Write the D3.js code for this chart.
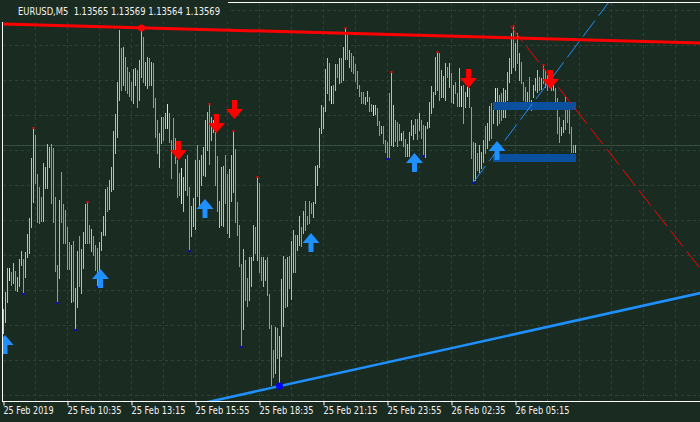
<!DOCTYPE html>
<html><head><meta charset="utf-8">
<script src="https://cdn.jsdelivr.net/npm/d3@7"></script>
<style>html,body{margin:0;padding:0;background:#1a2b21;overflow:hidden}svg{display:block}</style>
</head><body><svg id="c" width="700" height="422"></svg>
<script>
// ---- data (EURUSD M5, bar 0 = 25 Feb 2019 07:55) ----
const symbolTitle = "EURUSD,M5  1.13565 1.13569 1.13564 1.13569";
const barHigh = [
1.13405,1.13422,1.13446,1.13446,1.13442,1.13451,1.13443,1.13437,1.13455,1.13463,
1.13455,1.13462,1.13480,1.13496,1.13556,1.13586,1.13579,1.13540,1.13527,1.13517,
1.13551,1.13547,1.13570,1.13567,1.13570,1.13566,1.13517,1.13449,1.13514,1.13542,
1.13510,1.13504,1.13487,1.13472,1.13469,1.13473,1.13426,1.13463,1.13478,1.13465,
1.13482,1.13510,1.13512,1.13489,1.13485,1.13478,1.13469,1.13466,1.13472,1.13482,
1.13498,1.13525,1.13527,1.13534,1.13547,1.13583,1.13600,1.13632,1.13684,1.13666,
1.13667,1.13657,1.13647,1.13642,1.13632,1.13645,1.13646,1.13644,1.13654,1.13686,
1.13677,1.13652,1.13657,1.13656,1.13652,1.13651,1.13616,1.13594,1.13581,1.13597,
1.13597,1.13601,1.13610,1.13601,1.13574,1.13596,1.13576,1.13554,1.13541,1.13546,
1.13537,1.13555,1.13559,1.13527,1.13508,1.13516,1.13554,1.13569,1.13554,1.13559,
1.13567,1.13594,1.13602,1.13610,1.13597,1.13594,1.13582,1.13558,1.13513,1.13547,
1.13548,1.13559,1.13540,1.13545,1.13559,1.13583,1.13565,1.13512,1.13489,1.13450,
1.13465,1.13454,1.13436,1.13457,1.13457,1.13489,1.13487,1.13537,1.13531,1.13457,
1.13457,1.13454,1.13457,1.13420,1.13389,1.13364,1.13387,1.13386,1.13378,1.13435,
1.13458,1.13455,1.13457,1.13458,1.13473,1.13484,1.13479,1.13479,1.13498,1.13487,
1.13503,1.13513,1.13498,1.13513,1.13511,1.13512,1.13548,1.13549,1.13586,1.13609,
1.13607,1.13645,1.13656,1.13651,1.13628,1.13629,1.13650,1.13650,1.13656,1.13656,
1.13667,1.13686,1.13679,1.13664,1.13661,1.13658,1.13650,1.13643,1.13629,1.13622,
1.13622,1.13617,1.13623,1.13617,1.13610,1.13609,1.13609,1.13606,1.13593,1.13588,
1.13588,1.13574,1.13572,1.13621,1.13642,1.13609,1.13594,1.13592,1.13590,1.13581,
1.13583,1.13575,1.13570,1.13582,1.13594,1.13589,1.13595,1.13595,1.13601,1.13594,
1.13589,1.13588,1.13592,1.13612,1.13628,1.13622,1.13657,1.13662,1.13661,1.13644,
1.13638,1.13651,1.13647,1.13651,1.13641,1.13629,1.13632,1.13621,1.13646,1.13628,
1.13629,1.13622,1.13627,1.13626,1.13607,1.13572,1.13571,1.13561,1.13569,1.13562,
1.13574,1.13588,1.13591,1.13608,1.13611,1.13611,1.13626,1.13626,1.13619,1.13621,
1.13626,1.13624,1.13642,1.13656,1.13681,1.13688,1.13671,1.13681,1.13661,1.13652,
1.13632,1.13627,1.13622,1.13637,1.13614,1.13629,1.13636,1.13644,1.13637,1.13636,
1.13649,1.13644,1.13639,1.13637,1.13637,1.13629,1.13626,1.13616,1.13597,1.13587,
1.13594,1.13617,1.13607,1.13607,1.13587,1.13569,1.13569];
const barLow = [
1.13381,1.13392,1.13412,1.13434,1.13429,1.13431,1.13424,1.13423,1.13428,1.13449,
1.13421,1.13437,1.13457,1.13461,1.13487,1.13512,1.13531,1.13492,1.13491,1.13493,
1.13493,1.13526,1.13526,1.13547,1.13511,1.13492,1.13443,1.13412,1.13436,1.13492,
1.13471,1.13471,1.13445,1.13445,1.13412,1.13413,1.13385,1.13407,1.13428,1.13421,
1.13446,1.13471,1.13471,1.13471,1.13463,1.13459,1.13444,1.13428,1.13444,1.13464,
1.13479,1.13479,1.13503,1.13505,1.13523,1.13525,1.13561,1.13577,1.13614,1.13624,
1.13629,1.13624,1.13621,1.13618,1.13614,1.13611,1.13629,1.13607,1.13614,1.13637,
1.13632,1.13629,1.13626,1.13629,1.13629,1.13607,1.13577,1.13561,1.13547,1.13571,
1.13574,1.13586,1.13586,1.13572,1.13536,1.13562,1.13551,1.13517,1.13519,1.13511,
1.13503,1.13524,1.13519,1.13464,1.13478,1.13488,1.13485,1.13518,1.13509,1.13529,
1.13539,1.13538,1.13564,1.13550,1.13574,1.13582,1.13529,1.13503,1.13487,1.13489,
1.13488,1.13511,1.13481,1.13477,1.13513,1.13522,1.13492,1.13479,1.13448,1.13368,
1.13385,1.13414,1.13408,1.13414,1.13428,1.13454,1.13461,1.13454,1.13442,1.13434,
1.13428,1.13434,1.13419,1.13386,1.13329,1.13337,1.13341,1.13356,1.13328,1.13358,
1.13388,1.13407,1.13408,1.13426,1.13415,1.13442,1.13442,1.13464,1.13469,1.13468,
1.13481,1.13484,1.13490,1.13491,1.13501,1.13497,1.13511,1.13529,1.13547,1.13581,
1.13586,1.13603,1.13621,1.13614,1.13611,1.13611,1.13624,1.13637,1.13631,1.13632,
1.13634,1.13655,1.13655,1.13647,1.13643,1.13641,1.13633,1.13626,1.13618,1.13611,
1.13611,1.13610,1.13613,1.13603,1.13603,1.13599,1.13600,1.13589,1.13579,1.13581,
1.13571,1.13562,1.13556,1.13557,1.13569,1.13568,1.13573,1.13568,1.13574,1.13574,
1.13568,1.13558,1.13558,1.13558,1.13579,1.13575,1.13581,1.13575,1.13584,1.13576,
1.13559,1.13557,1.13586,1.13587,1.13601,1.13607,1.13620,1.13624,1.13614,1.13617,
1.13617,1.13614,1.13637,1.13627,1.13612,1.13611,1.13621,1.13608,1.13608,1.13608,
1.13591,1.13607,1.13618,1.13607,1.13556,1.13532,1.13534,1.13544,1.13542,1.13546,
1.13552,1.13561,1.13566,1.13574,1.13576,1.13591,1.13606,1.13589,1.13591,1.13594,
1.13597,1.13597,1.13614,1.13632,1.13641,1.13647,1.13644,1.13651,1.13634,1.13631,
1.13614,1.13606,1.13604,1.13611,1.13604,1.13617,1.13624,1.13622,1.13624,1.13625,
1.13631,1.13627,1.13624,1.13627,1.13624,1.13624,1.13611,1.13581,1.13572,1.13579,
1.13582,1.13585,1.13592,1.13581,1.13562,1.13562,1.13562];
// u = bullish, d = bearish, n = doji (10 bars per group)
const barDir = ("uuunduduuu"+"duuuuudddd"+"uuuuddddud"+"dddduduudu"+"uudduddduu"+
"uuduuuuuud"+"udddduuduu"+"duududdduu"+"dunddddddn"+"uudduuuduu"+
"uuuduudduu"+"udduuudddd"+"udduuududd"+"uudddduduu"+"ududuuduud"+
"udddduuuuu"+"uuudndudud"+"uududddddd"+"duuddnuddu"+"dddduudddn"+
"dduuuuddud"+"duuuuuuudu"+"uudududdun"+"dunddduduu"+"uduudunudd"+
"uuuuududud"+"dduduuuudu"+"dddududddu"+"udddddu").split("");
const tickBars   = [0, 32, 64, 96, 128, 160, 192, 224, 256];
const tickLabels = ["25 Feb 2019","25 Feb 10:35","25 Feb 13:15","25 Feb 15:55","25 Feb 18:35",
                    "25 Feb 21:15","25 Feb 23:55","26 Feb 02:35","26 Feb 05:15"];
const gridPrices = [1.13704,1.13669,1.13634,1.13599,1.13564,1.13529,1.13494,1.13459,1.13424,1.13389,1.13354,1.13319];
const gridBars   = [16,32,48,64,80,96,112,128,144,160,176,192,208,224,240,256,272,288,304,320,336];
const lastPrice = 1.13569;
// trend lines: [bar index, price]
const upperTrend  = [[0, 1.13690], [348.5, 1.13671]];
const lowerTrend  = [[100, 1.13311], [348.5, 1.13421]];
const redDashed   = [[253.5, 1.13688], [348.5, 1.13445]];
const blueDashed  = [[235, 1.13532], [305, 1.13718]];
const upperPivot = [69, 1.13686];
const lowerPivot = [138, 1.13328];
const fractalHighBars = [15, 42, 103, 115, 127, 171, 194, 217, 255, 270];
const fractalLowBars  = [10, 27, 36, 47, 93, 119, 192, 210, 235];
const downArrowBars   = [87.5, 106.5, 115.5, 232.5, 273.5];
const downArrowPrices = [1.13554, 1.13581, 1.13595, 1.13626, 1.13625];
const upArrowBars     = [0.75, 48.5, 100.75, 153.75, 205.5, 246.75];
const upArrowPrices   = [1.13379, 1.13445, 1.13515, 1.13481, 1.13561, 1.13573];
const zoneFrom = 245, zoneTo = 286;
const zoneTops    = [1.13612, 1.13560];
const zoneBottoms = [1.13604, 1.13552];

// ---- drawing ----
const BG = "#1a2b21", GRID = "#2d4434", UP = "#87ceeb", DN = "#ee7d5b", DOJI = "#ffff00";
const svg = d3.select("#c");
const x = d3.scaleLinear().domain([0, 286]).range([3.5, 575.5]);
const y = d3.scaleLinear().domain([1.13714, 1.13315]).range([0, 399]);
const colorOf = d => d === "u" ? UP : d === "d" ? DN : DOJI;

svg.append("rect").attr("width", 700).attr("height", 422).attr("fill", BG);
svg.append("defs").append("clipPath").attr("id", "plot")
  .append("rect").attr("x", 3).attr("y", 3).attr("width", 697).attr("height", 398);
const g = svg.append("g").attr("clip-path", "url(#plot)");

// grid
g.selectAll(".gh").data(gridPrices).join("line")
  .attr("x1", 3).attr("x2", 700)
  .attr("y1", d => Math.round(y(d)) + 0.5).attr("y2", d => Math.round(y(d)) + 0.5)
  .attr("stroke", GRID).attr("stroke-dasharray", "3,3");
g.selectAll(".gv").data(gridBars).join("line")
  .attr("x1", d => x(d)).attr("x2", d => x(d))
  .attr("y1", 3).attr("y2", 401)
  .attr("stroke", GRID).attr("stroke-dasharray", "3,3");
// price line
g.append("line").attr("x1", 3).attr("x2", 700)
  .attr("y1", Math.round(y(lastPrice)) + 0.5).attr("y2", Math.round(y(lastPrice)) + 0.5)
  .attr("stroke", "#35503f");

// bars
g.selectAll(".bar").data(barHigh).join("line")
  .attr("x1", (d, i) => x(i)).attr("x2", (d, i) => x(i))
  .attr("y1", d => y(d)).attr("y2", (d, i) => y(barLow[i]) + 1)
  .attr("stroke", (d, i) => colorOf(barDir[i])).attr("stroke-width", 1);

// fractal markers
g.selectAll(".fh").data(fractalHighBars).join("rect")
  .attr("x", i => x(i) - 1).attr("y", i => y(barHigh[i]) - 1).attr("width", 2).attr("height", 2)
  .attr("fill", "#ff0000");
g.selectAll(".fl").data(fractalLowBars).join("rect")
  .attr("x", i => x(i) - 1).attr("y", i => y(barLow[i])).attr("width", 2).attr("height", 2)
  .attr("fill", "#0000ff");

// zones
g.selectAll(".zone").data(zoneTops).join("rect")
  .attr("x", x(zoneFrom) - 0.5).attr("width", x(zoneTo) - x(zoneFrom) + 1)
  .attr("y", d => y(d)).attr("height", (d, i) => y(zoneBottoms[i]) - y(d))
  .attr("fill", "#0a509f");

// trend lines
const ln = d3.line().x(d => x(d[0])).y(d => y(d[1]));
g.append("path").attr("d", ln(upperTrend)).attr("stroke", "#ff0000").attr("stroke-width", 3).attr("fill", "none");
g.append("path").attr("d", ln(lowerTrend)).attr("stroke", "#1e90ff").attr("stroke-width", 2.5).attr("fill", "none");
g.append("path").attr("d", ln(redDashed)).attr("stroke", "#ff0000").attr("stroke-width", 1)
  .attr("stroke-dasharray", "20,6").attr("fill", "none");
g.append("path").attr("d", ln(blueDashed)).attr("stroke", "#1e90ff").attr("stroke-width", 1)
  .attr("stroke-dasharray", "20,6").attr("fill", "none");
g.append("circle").attr("cx", x(upperPivot[0])).attr("cy", y(upperPivot[1])).attr("r", 3.5).attr("fill", "#ff0000");
g.append("circle").attr("cx", x(lowerPivot[0])).attr("cy", y(lowerPivot[1])).attr("r", 3.5).attr("fill", "#0000ff");

// arrows
function arrowPts(cx, tip, down) {
  const s = down ? -1 : 1, b = tip + s * 19;
  const pts = [[cx, tip], [cx + 8.5, tip + s * 10], [cx + 2.5, tip + s * 10], [cx + 2.5, b],
               [cx - 2.5, b], [cx - 2.5, tip + s * 10], [cx - 8.5, tip + s * 10]];
  return pts.map(p => p.join(",")).join(" ");
}
g.selectAll(".da").data(downArrowBars).join("polygon")
  .attr("points", (d, i) => arrowPts(x(d), y(downArrowPrices[i]), true)).attr("fill", "#ff0000");
g.selectAll(".ua").data(upArrowBars).join("polygon")
  .attr("points", (d, i) => arrowPts(x(d), y(upArrowPrices[i]), false)).attr("fill", "#1e90ff");

// frame + axis
svg.append("line").attr("x1", 2.5).attr("x2", 2.5).attr("y1", 2).attr("y2", 402).attr("stroke", "#fff");
svg.append("line").attr("x1", 2).attr("x2", 700).attr("y1", 2.5).attr("y2", 2.5).attr("stroke", "#fff");
const axis = d3.axisBottom(x).tickValues(tickBars).tickFormat((d, i) => tickLabels[i]).tickSize(4).tickSizeOuter(0);
const ag = svg.append("g").attr("transform", "translate(0,401.5)").call(axis);
ag.select(".domain").remove();
ag.append("line").attr("x1", 2).attr("x2", 700).attr("stroke", "#fff");
ag.selectAll(".tick line").attr("stroke", "#fff");
ag.selectAll(".tick text")
  .attr("fill", "#f2f2f2").attr("text-anchor", "start").attr("x", -0.5).attr("y", 12.5).attr("dy", 0)
  .attr("font-family", "'DejaVu Sans Condensed','DejaVu Sans',sans-serif").attr("font-size", 11)
  .attr("textLength", (d, i) => i === 0 ? 50 : 54).attr("lengthAdjust", "spacingAndGlyphs");

// title
svg.append("rect").attr("x", 0).attr("y", 0).attr("width", 228).attr("height", 22).attr("fill", BG);
svg.append("text").attr("x", 18).attr("y", 14.5).text(symbolTitle)
  .attr("fill", "#f2f2f2").attr("font-family", "'DejaVu Sans Condensed','DejaVu Sans',sans-serif")
  .attr("font-size", 11).attr("textLength", 202).attr("lengthAdjust", "spacingAndGlyphs")
  .style("white-space", "pre");
</script>
</body></html>
